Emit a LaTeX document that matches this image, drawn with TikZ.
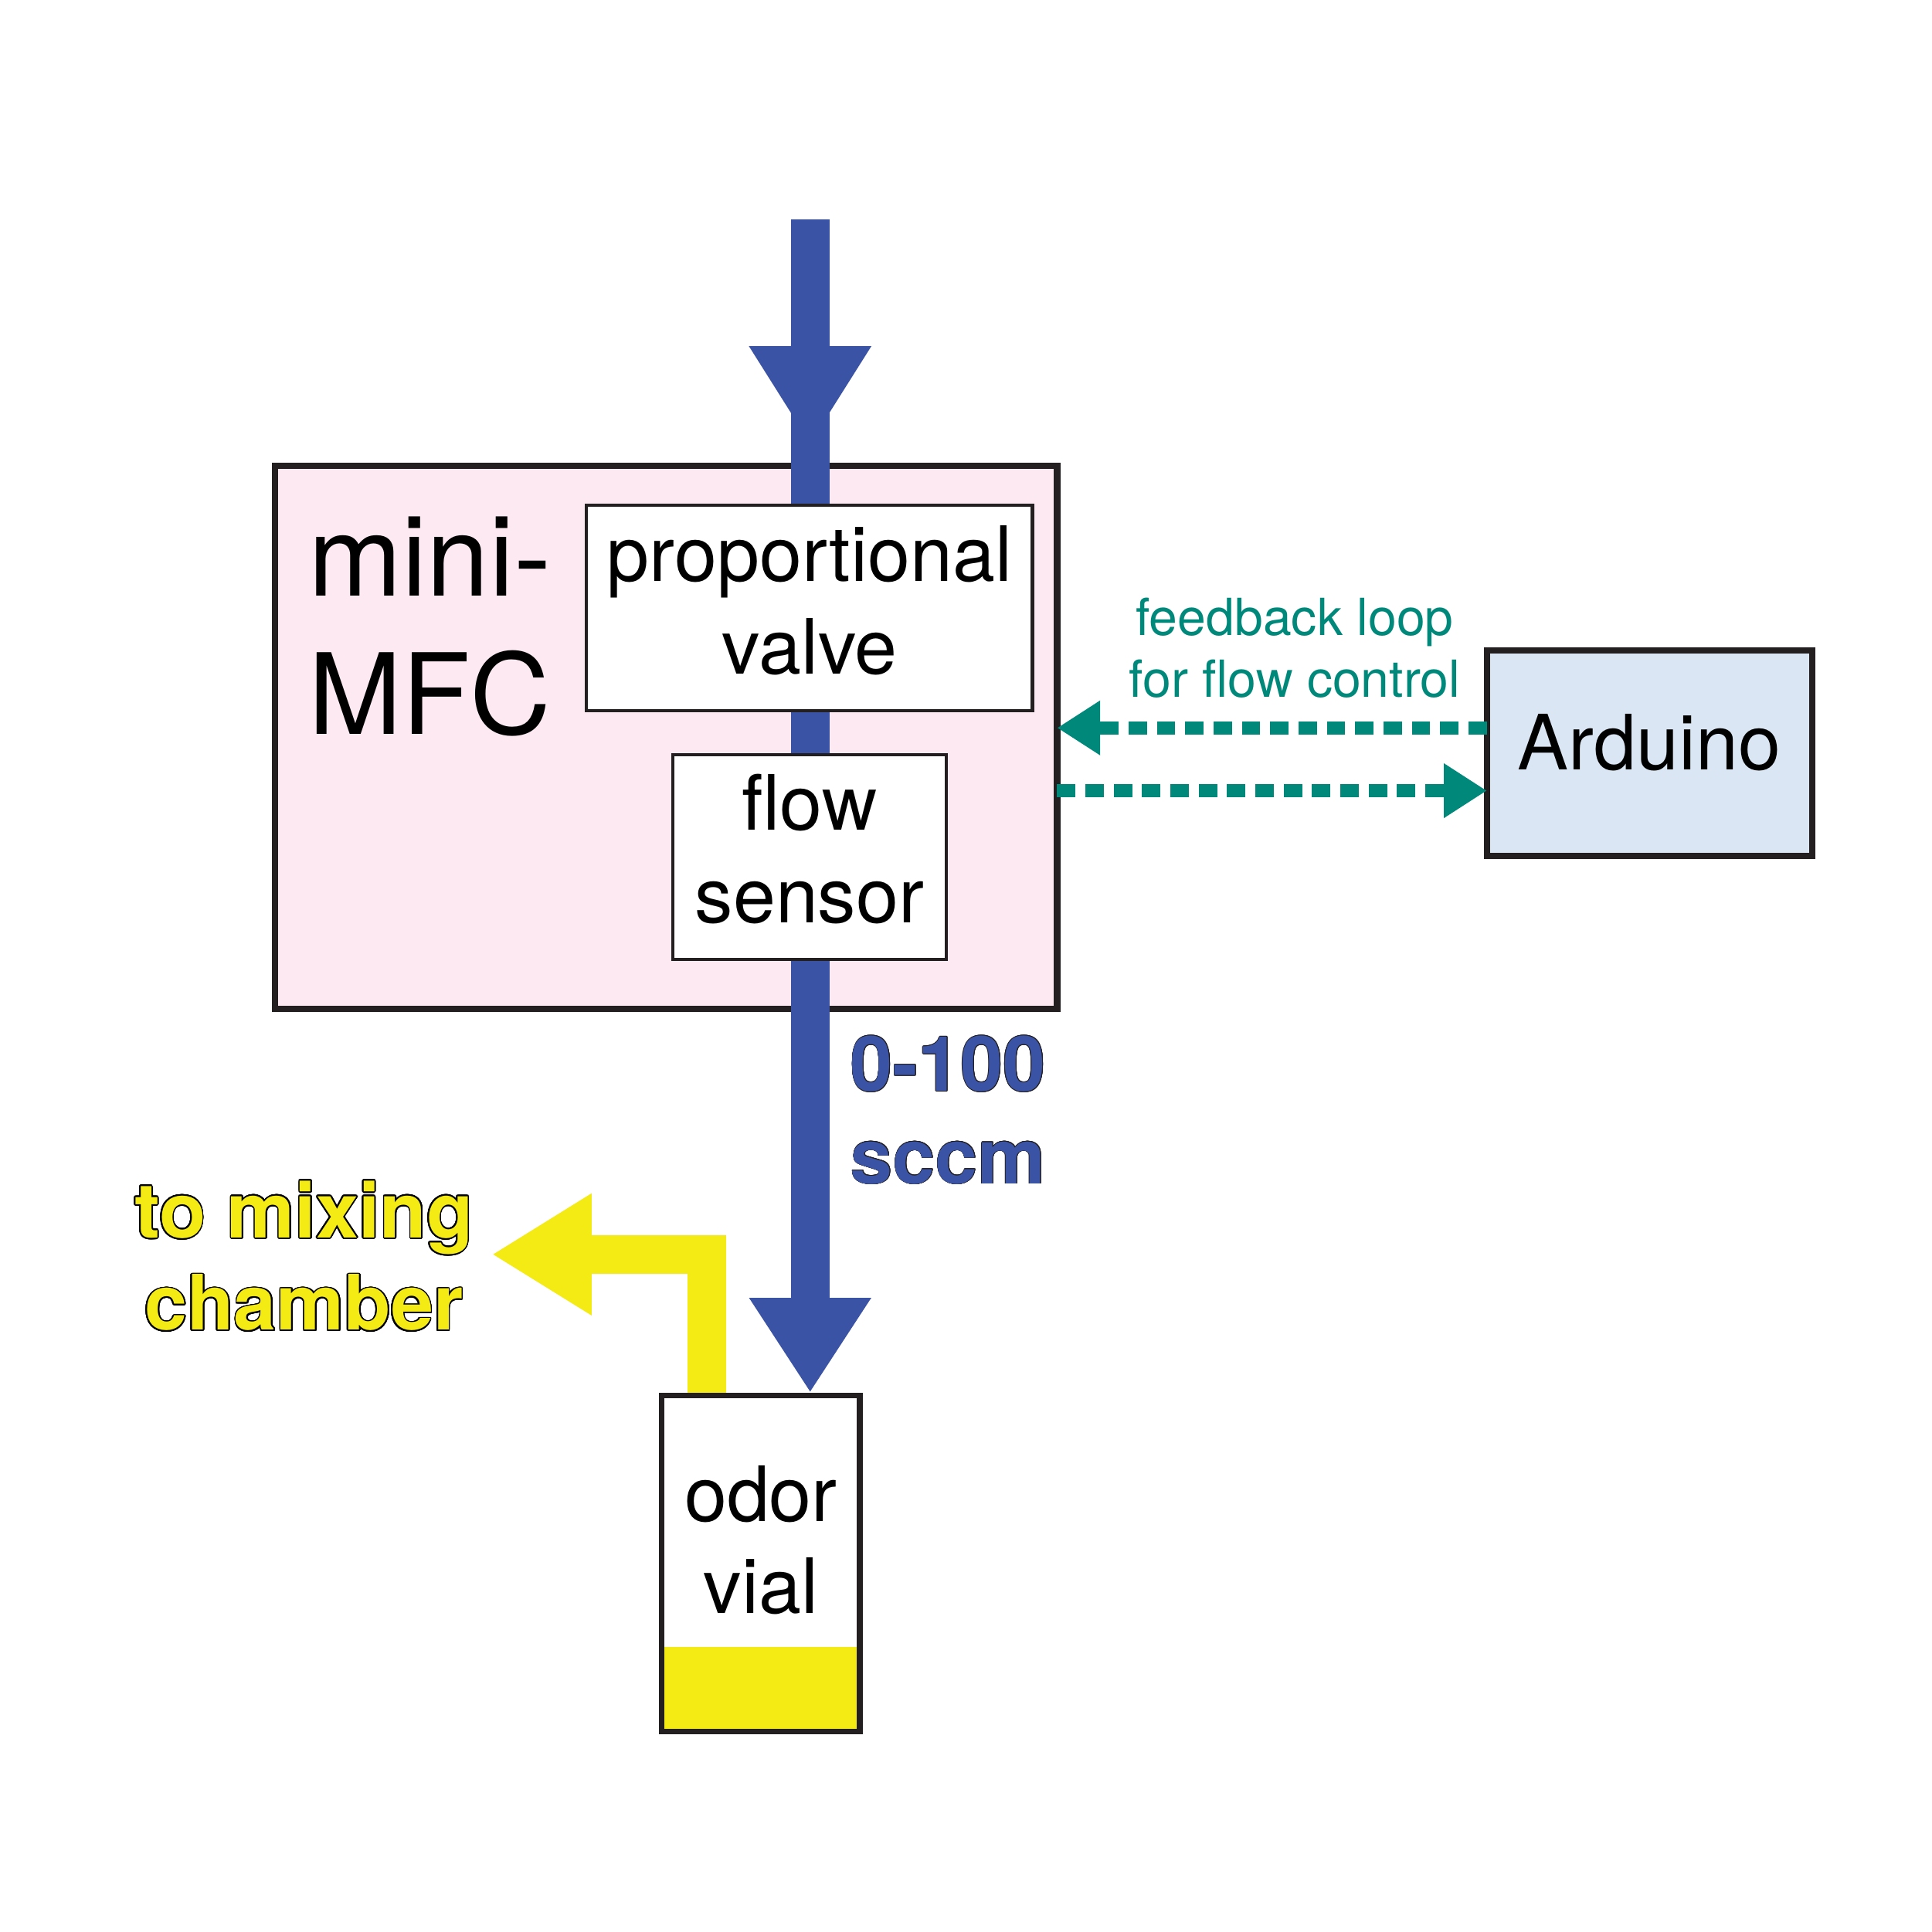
\documentclass[tikz,border=0pt]{standalone}
\usepackage{fontspec}
\setmainfont{TeX Gyre Heros}
\usetikzlibrary{arrows.meta,calc}
\definecolor{flowblue}{RGB}{58,83,164}
\definecolor{fbteal}{RGB}{0,137,123}
\definecolor{mfcpink}{RGB}{252,233,241}
\definecolor{ardblue}{RGB}{218,230,243}
\definecolor{odoryel}{RGB}{244,234,20}
\definecolor{boxk}{RGB}{35,31,32}
\begin{document}
\begin{tikzpicture}[x=1pt,y=-1pt,
  bigbox/.style={draw=boxk, line width=5.2pt, inner sep=0pt, outer sep=0pt},
  smallbox/.style={draw=boxk, fill=white, line width=2.6pt, inner sep=0pt, outer sep=0pt},
  txt/.style={font=\fontsize{62}{75}\selectfont, align=center, inner sep=0pt},
  boldtxt/.style={font=\fontsize{62}{75}\selectfont\bfseries, inner sep=0pt},
  flowline/.style={draw=flowblue, line width=31.3pt},
  fbline/.style={draw=fbteal, line width=10.5pt, dash pattern=on 15pt off 8pt},
  yelline/.style={draw=odoryel, line width=31pt, line join=miter}
]
\useasboundingbox (-0.3,-1) rectangle (1568.4,1567.7);

% boxes
\node[bigbox, fill=mfcpink, minimum width=635pt, minimum height=441pt] (mfc) at (540.5,597.5) {};
\node[bigbox, fill=ardblue, minimum width=264pt, minimum height=167pt] (ard) at (1339,610.5) {};

% blue flow line
\coordinate (src) at (657.5,177);
\coordinate (tipA) at (657.5,360);
\coordinate (midA) at (657.5,310);
\draw[flowline, -{Triangle[length=80pt,width=93.5pt]}] (src) -- (tipA);

% yellow outlet
\coordinate (ybend) at (573.5,1017.5);
\coordinate (mix) at (399,1017.5);

\node[bigbox, line width=4.8pt, fill=white, minimum width=161pt, minimum height=273pt] (vial) at (617.5,1268.5) {};
\fill[odoryel] (vial.south west) rectangle ($(vial.south east)+(0,-69)$);
\draw[boxk, line width=4.8pt, line join=round] (vial.south west) rectangle (vial.north east);

\draw[yelline, -{Triangle[length=81pt,width=93pt]}] (vial.north -| ybend) -- (ybend) -- (mix);
\draw[flowline, shorten >=2.2pt, -{Triangle[length=77pt,width=93.5pt]}] (midA) -- (src |- vial.north);
\draw[boxk, line width=4.8pt] (vial.north west) -- (vial.north east);

\node[smallbox, minimum width=362pt, minimum height=167pt] (valve) at (657,492.5) {};
\node[smallbox, minimum width=222pt, minimum height=166pt] (sensor) at (657,695) {};

% feedback arrows
\coordinate (yup) at (0,590);
\coordinate (ydn) at (0,641);
\draw[fbline, -{Triangle[length=35pt,width=42pt]}] (ard.west |- yup) -- (mfc.east |- yup);
\draw[fbline, -{Triangle[length=35pt,width=42pt]}] (mfc.east |- ydn) -- (ard.west |- ydn);

% texts (multi-line nodes: base = baseline of last line)
\node[font=\fontsize{91}{112}\selectfont, align=left, inner sep=0pt, anchor=base west] (mfctxt) at (250,595) {mini-\\MFC};
\node[txt, anchor=base] (valvetxt) at (657,546) {proportional\\valve};
\node[txt, anchor=base] (sensortxt) at (657,748) {flow\\sensor};
\node[txt, anchor=base] (ardtxt) at (1339,624) {Arduino};
\node[txt, anchor=base] (vialtxt) at (617.5,1309) {odor\\vial};
\node[font=\fontsize{41.5}{50}\selectfont, text=fbteal, align=center, inner sep=0pt, anchor=base] (fbtxt) at (1051,565) {feedback loop\\for flow control};
\coordinate (ratec) at (690,960);
\foreach \a in {0,30,...,330}
  \node[boldtxt, text=boxk, align=left, anchor=base west] at ($(ratec)+(\a:0.5)$) {0-100\\sccm};
\node[boldtxt, text=flowblue, align=left, anchor=base west] (ratetxt) at (ratec) {0-100\\sccm};
\coordinate (mixc) at (246.5,1079);
\foreach \a in {0,15,...,345}
  \node[boldtxt, text=black, align=center, anchor=base] at ($(mixc)+(\a:1.1)$) {to mixing\\chamber};
\node[boldtxt, text=odoryel, align=center, anchor=base] (mixtxt) at (mixc) {to mixing\\chamber};
\end{tikzpicture}
\end{document}
